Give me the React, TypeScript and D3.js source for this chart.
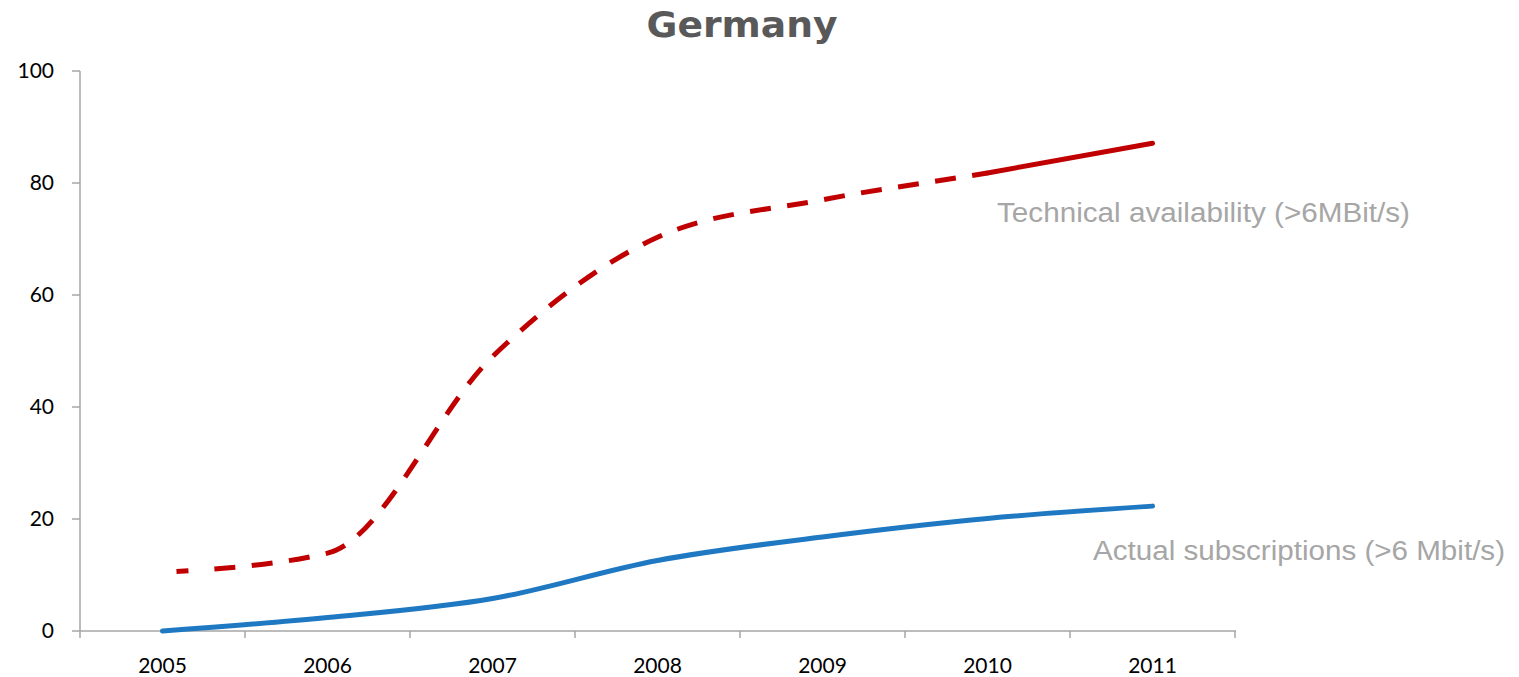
import React from "react";
import * as d3 from "d3";

const years = ["2005", "2006", "2007", "2008", "2009", "2010", "2011"];
const technicalAvailability = [10.5, 13.9, 49, 70.3, 77, 81.8, 87.1];
const actualSubscriptions = [0, 2.4, 5.8, 12.6, 16.8, 20.1, 22.3];
const yTicks = [0, 20, 40, 60, 80, 100];
const title = "Germany";
const labelTech = "Technical availability (>6MBit/s)";
const labelActual = "Actual subscriptions (>6 Mbit/s)";

const W = 1519;
const H = 677;
const left = 80;
const right = 1235;
const top = 71;
const bottom = 631;

function segments(values: number[], x: d3.ScaleBand<string>, y: d3.ScaleLinear<number, number>) {
  const segs: { start: [number, number]; c: string }[] = [];
  let cur: [number, number] = [0, 0];
  const rec: any = {
    moveTo(px: number, py: number) { cur = [px, py]; },
    lineTo(px: number, py: number) { segs.push({ start: cur, c: `L${px},${py}` }); cur = [px, py]; },
    bezierCurveTo(a: number, b: number, c: number, d: number, e: number, f: number) {
      segs.push({ start: cur, c: `C${a},${b},${c},${d},${e},${f}` });
      cur = [e, f];
    },
    closePath() {},
  };
  const line = d3
    .line<number>()
    .x((_, i) => (x(years[i]) as number) + x.bandwidth() / 2)
    .y((v) => y(v))
    .curve(d3.curveMonotoneX)
    .context(rec);
  line(values);
  return segs;
}

export default function App() {
  const x = d3.scaleBand<string>().domain(years).range([left, right]);
  const y = d3.scaleLinear().domain([0, 100]).range([bottom, top]);
  const axisColor = "#a6a6a6";

  const redSegs = segments(technicalAvailability, x, y);
  const blueSegs = segments(actualSubscriptions, x, y);
  const dashedPath =
    `M${redSegs[0].start[0]},${redSegs[0].start[1]}` +
    redSegs.slice(0, 5).map((s) => s.c).join("");
  const solidPath = `M${redSegs[5].start[0]},${redSegs[5].start[1]}` + redSegs[5].c;
  const bluePath = `M${blueSegs[0].start[0]},${blueSegs[0].start[1]}` + blueSegs.map((s) => s.c).join("");

  const dash = ["0", "14", "12", "26"];
  for (let i = 0; i < 60; i++) dash.push("21", "16.5");

  const boundaries = years.map((yr) => x(yr) as number).concat([right]);

  return (
    <svg
      width={W}
      height={H}
      style={{ position: "absolute", left: 0, top: 0, background: "#fff" }}
    >
      <text
        x={742}
        y={37}
        textAnchor="middle"
        fontFamily="DejaVu Sans"
        fontWeight="bold"
        fontSize={35}
        fill="#595959"
        textLength={191}
        lengthAdjust="spacingAndGlyphs"
      >
        {title}
      </text>

      {/* y axis */}
      <line x1={left} x2={left} y1={top} y2={bottom} stroke={axisColor} strokeWidth={1.5} />
      {yTicks.map((t) => (
        <g key={t}>
          <line x1={left - 8} x2={left} y1={y(t)} y2={y(t)} stroke={axisColor} strokeWidth={1.5} />
          <text
            x={54}
            y={y(t)}
            dy="0.35em"
            textAnchor="end"
            fontFamily="Lato"
            fontSize={21}
            fill="#000"
          >
            {t}
          </text>
        </g>
      ))}

      {/* x axis */}
      <line x1={left} x2={right + 1} y1={bottom} y2={bottom} stroke={axisColor} strokeWidth={1.5} />
      {boundaries.map((bx, i) => (
        <line key={i} x1={bx} x2={bx} y1={bottom} y2={bottom + 7} stroke={axisColor} strokeWidth={1.5} />
      ))}
      {years.map((yr) => (
        <text
          key={yr}
          x={(x(yr) as number) + x.bandwidth() / 2}
          y={673}
          textAnchor="middle"
          fontFamily="Lato"
          fontSize={21}
          fill="#000"
        >
          {yr}
        </text>
      ))}

      {/* lines */}
      <path d={bluePath} fill="none" stroke="#1e78c2" strokeWidth={5} strokeLinecap="round" />
      <path
        d={dashedPath}
        fill="none"
        stroke="#c00000"
        strokeWidth={5}
        strokeDasharray={dash.join(" ")}
      />
      <path d={solidPath} fill="none" stroke="#c00000" strokeWidth={5} strokeLinecap="round" />

      <text
        x={997}
        y={222}
        fontFamily="Liberation Sans"
        fontSize={27}
        fill="#a6a6a6"
        textLength={413}
        lengthAdjust="spacingAndGlyphs"
      >
        {labelTech}
      </text>
      <text
        x={1093}
        y={560}
        fontFamily="Liberation Sans"
        fontSize={27}
        fill="#a6a6a6"
        textLength={412}
        lengthAdjust="spacingAndGlyphs"
      >
        {labelActual}
      </text>
    </svg>
  );
}
